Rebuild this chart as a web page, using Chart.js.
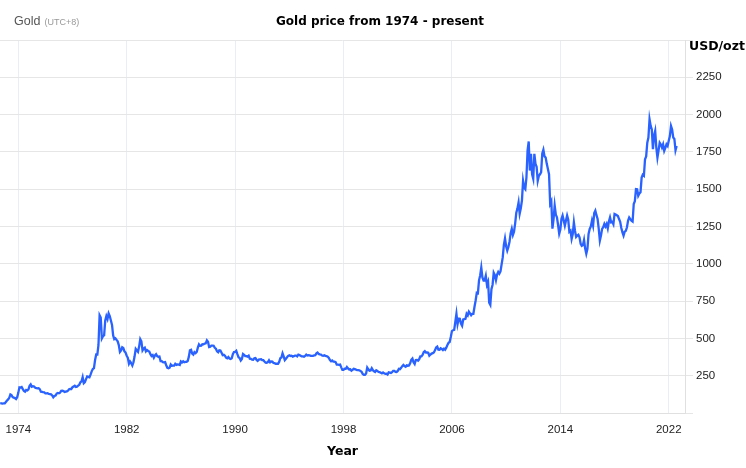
<!DOCTYPE html>
<html>
<head>
<meta charset="utf-8">
<title>Gold price from 1974 - present</title>
<script src="https://cdn.jsdelivr.net/npm/chart.js@4"></script>
<style>
  html, body { margin: 0; padding: 0; background: #fff; }
</style>
</head>
<body>
<canvas id="gold" width="746" height="468"></canvas>
<script>
// monthly gold price, USD per troy ounce; first value is Sep 1972
const firstMonth = 1972 + 8 / 12;

const prices1970s = [
  66, 65, 63, 64,
  65, 74, 84, 91, 102, 124, 120, 106, 103, 100, 94, 106,
  135, 172, 170, 174, 160, 148, 143, 154, 151, 158, 182, 192,
  176, 180, 178, 169, 167, 165, 166, 160, 143, 142, 140, 139,
  131, 131, 132, 128, 127, 125, 118, 105, 114, 117, 130, 134,
  132, 136, 148, 149, 147, 141, 143, 145, 150, 159, 162, 161,
  173, 178, 183, 175, 177, 183, 189, 206, 212, 240, 200, 207,
  227, 245, 242, 239, 257, 279, 295, 301, 355, 392, 392, 456
];
const prices1980s = [
  655, 640, 500, 515, 520, 620, 650, 630, 668, 650, 620, 590,
  520, 495, 500, 490, 480, 455, 410, 420, 440, 435, 413, 405,
  384, 370, 330, 345, 334, 318, 340, 380, 430, 420, 410, 445,
  495, 480, 420, 432, 438, 413, 422, 416, 412, 394, 382, 388,
  370, 386, 394, 381, 377, 378, 348, 348, 341, 340, 341, 320,
  303, 300, 304, 325, 316, 317, 317, 330, 323, 326, 325, 322,
  345, 339, 346, 340, 342, 343, 348, 376, 420, 423, 398, 391,
  408, 401, 409, 438, 460, 450, 451, 461, 460, 465, 467, 487,
  477, 442, 444, 452, 452, 451, 437, 431, 413, 407, 420, 419,
  404, 388, 390, 384, 371, 367, 375, 365, 362, 367, 394, 409
];
const prices1990s = [
  410, 417, 394, 374, 369, 352, 362, 395, 389, 381, 381, 378,
  384, 364, 363, 358, 357, 367, 368, 356, 349, 358, 360, 361,
  354, 354, 345, 338, 337, 341, 353, 340, 345, 344, 335, 334,
  329, 330, 330, 342, 367, 372, 400, 379, 355, 364, 374, 383,
  387, 382, 384, 378, 381, 385, 385, 380, 391, 389, 384, 379,
  379, 377, 382, 391, 385, 387, 386, 383, 383, 383, 386, 387,
  400, 405, 396, 393, 392, 385, 383, 387, 383, 381, 378, 369,
  355, 347, 352, 344, 344, 341, 324, 324, 323, 325, 306, 289,
  289, 297, 296, 308, 299, 292, 293, 284, 289, 296, 294, 291,
  287, 287, 286, 282, 277, 262, 256, 256, 265, 305, 293, 283
];
const prices2000s = [
  285, 300, 287, 280, 275, 286, 282, 275, 274, 270, 266, 272,
  266, 262, 263, 258, 272, 270, 268, 273, 283, 283, 276, 275,
  282, 296, 294, 303, 314, 322, 314, 310, 319, 317, 319, 333,
  357, 365, 340, 328, 355, 356, 351, 360, 379, 379, 389, 407,
  414, 405, 406, 404, 384, 392, 398, 401, 406, 420, 439, 445,
  424, 423, 434, 429, 422, 431, 424, 438, 456, 470, 476, 510,
  549, 555, 557, 610, 665, 596, 633, 632, 599, 585, 627, 629,
  631, 665, 654, 679, 667, 655, 665, 665, 712, 754, 806, 803,
  889, 922, 975, 909, 888, 889, 920, 860, 880, 740, 725, 830,
  860, 940, 924, 890, 928, 946, 934, 949, 996, 1043, 1127, 1170
];
const prices2010s = [
  1118, 1089, 1113, 1148, 1205, 1234, 1193, 1215, 1271, 1342, 1370, 1411,
  1336, 1372, 1424, 1556, 1510, 1500, 1580, 1760, 1820, 1625, 1737, 1600,
  1570, 1737, 1670, 1650, 1556, 1590, 1600, 1614, 1740, 1765, 1720, 1712,
  1670, 1636, 1600, 1403, 1420, 1236, 1300, 1390, 1330, 1311, 1260, 1202,
  1230, 1300, 1323, 1290, 1256, 1290, 1323, 1295, 1215, 1222, 1167, 1200,
  1278, 1220, 1180, 1189, 1195, 1178, 1134, 1120, 1125, 1160, 1102, 1067,
  1100, 1200, 1234, 1250, 1289, 1256, 1340, 1356, 1326, 1300, 1236, 1156,
  1190, 1234, 1245, 1267, 1250, 1267, 1237, 1283, 1311, 1278, 1282, 1265,
  1334, 1330, 1325, 1320, 1300, 1282, 1240, 1211, 1189, 1215, 1221, 1245,
  1290, 1311, 1300, 1289, 1283, 1401, 1420, 1501, 1500, 1456, 1471, 1480
];
const prices2020s = [
  1578, 1597, 1590, 1701, 1720, 1812, 1846, 1969, 1924, 1900, 1768, 1858,
  1890, 1779, 1712, 1760, 1812, 1800, 1779, 1801, 1757, 1777, 1801, 1790,
  1824, 1856, 1924, 1900, 1846, 1837, 1761, 1790
];

const yearTicks = [1974, 1982, 1990, 1998, 2006, 2014, 2022];
const priceTicks = [250, 500, 750, 1000, 1250, 1500, 1750, 2000, 2250];

const monthly = [].concat(prices1970s, prices1980s, prices1990s, prices2000s, prices2010s, prices2020s);
const points = monthly.map((p, i) => ({ x: firstMonth + i / 12, y: p }));

const tickFont = { family: '"Liberation Sans", Arial, sans-serif', size: 11.5 };
const boldFont = '"DejaVu Sans", Verdana, sans-serif';

// header texts and the unit label over the right axis
const headerText = {
  id: 'headerText',
  afterDraw(chart) {
    const ctx = chart.ctx;
    const area = chart.chartArea;
    ctx.save();
    ctx.textBaseline = 'middle';
    ctx.textAlign = 'left';
    ctx.fillStyle = '#555';
    ctx.font = '12.5px "Liberation Sans", Arial, sans-serif';
    ctx.fillText('Gold', 14, 22);
    const w = ctx.measureText('Gold').width;
    ctx.fillStyle = '#999';
    ctx.font = '9px "Liberation Sans", Arial, sans-serif';
    ctx.fillText('(UTC+8)', 14 + w + 4, 23);
    ctx.fillStyle = '#000';
    ctx.font = 'bold 12px ' + boldFont;
    ctx.textAlign = 'center';
    ctx.fillText('Gold price from 1974 - present', 380, 22);
    ctx.textAlign = 'left';
    ctx.font = 'bold 12.5px ' + boldFont;
    ctx.fillText('USD/ozt', area.right + 4, 47);
    ctx.restore();
  }
};

new Chart(document.getElementById('gold'), {
  type: 'line',
  data: {
    datasets: [{
      label: 'Gold',
      data: points,
      borderColor: '#2962ff',
      borderWidth: 2.3,
      pointRadius: 0,
      tension: 0,
      fill: false
    }]
  },
  options: {
    responsive: false,
    animation: false,
    devicePixelRatio: 1,
    layout: { padding: { top: 40, left: 0, right: 0, bottom: 0 } },
    plugins: {
      legend: { display: false },
      tooltip: { enabled: false }
    },
    scales: {
      x: {
        type: 'linear',
        min: 1972.65,
        max: 2023.2,
        afterBuildTicks: s => { s.ticks = yearTicks.map(v => ({ value: v })); },
        afterFit: s => { s.height = 55; s.paddingLeft = 0; s.paddingRight = 0; },
        grid: { color: '#eaeef4', drawTicks: false },
        border: { color: '#e0e0e0' },
        ticks: { color: '#222', font: tickFont, padding: 10, maxRotation: 0, callback: v => String(v) },
        title: {
          display: true, text: 'Year', color: '#000',
          font: { family: boldFont, size: 12.5, weight: 'bold' },
          padding: { top: 0, bottom: 9 }
        }
      },
      y: {
        position: 'right',
        min: 0,
        max: 2500,
        afterBuildTicks: s => { s.ticks = [0].concat(priceTicks, [2500]).map(v => ({ value: v })); },
        afterFit: s => { s.width = 61; },
        grid: { color: '#e6e6e6', tickLength: 8 },
        border: { color: '#e0e0e0' },
        ticks: {
          color: '#222', font: tickFont, padding: 3,
          callback: v => priceTicks.includes(v) ? String(v) : ''
        }
      }
    }
  },
  plugins: [headerText]
});
</script>
</body>
</html>
